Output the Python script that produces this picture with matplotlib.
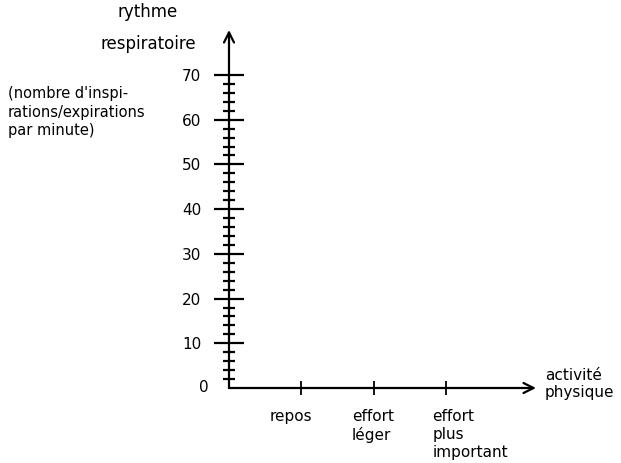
import matplotlib
matplotlib.use("Agg")
import matplotlib.pyplot as plt
import numpy as np

# Data / labels
categories = ["repos", "effort\nléger", "effort\nplus\nimportant"]
cat_positions = [1, 2, 3]
y_major = [10, 20, 30, 40, 50, 60, 70]
y_minor = [v for v in range(2, 70, 2) if v % 10 != 0]
y_title = "rythme\nrespiratoire"
y_unit = "(nombre d'inspi-\nrations/expirations\npar minute)"
x_title = "activité\nphysique"

plt.rcParams['font.family'] = ['DejaVu Sans']
W, H = 621, 463
fig = plt.figure(figsize=(W / 100, H / 100), dpi=100)

# axis area in pixels
x0, x1 = 229, 536
yb, yt = 388, 30
ax = fig.add_axes([x0 / W, (H - yb) / H, (x1 - x0) / W, (yb - yt) / H])
ymax = 70 + (75 - yt) / 44.7 * 10
xmax = (x1 - x0) / 72.3
ax.set_xlim(0, xmax)
ax.set_ylim(0, ymax)

for s in ax.spines.values():
    s.set_visible(False)

# axes with arrows
ax.annotate("", xy=(xmax, 0), xytext=(0, 0),
            arrowprops=dict(arrowstyle="->", lw=1.6, color="black",
                            mutation_scale=18, shrinkA=0, shrinkB=0),
            annotation_clip=False)
ax.annotate("", xy=(0, ymax), xytext=(0, 0),
            arrowprops=dict(arrowstyle="->", lw=1.6, color="black",
                            mutation_scale=18, shrinkA=0, shrinkB=0),
            annotation_clip=False)

ax.set_yticks(y_major)
ax.set_yticks(y_minor, minor=True)
ax.set_yticklabels([str(v) for v in y_major], fontsize=11)
ax.tick_params(axis='y', which='major', direction='inout', length=22,
               width=1.6, pad=9)
ax.tick_params(axis='y', which='minor', direction='inout', length=8,
               width=1.6)

ax.set_xticks(cat_positions)
ax.set_xticklabels([])
ax.tick_params(axis='x', which='major', direction='inout', length=10,
               width=1.3)

# zero label
ax.text(-25 / 72.3, 0, "0", fontsize=11, ha='center', va='center')

# category labels
offsets = [-0.44, -0.30, -0.19]
for p, lab, off in zip(cat_positions, categories, offsets):
    ax.text(p + off, -4.6, lab, fontsize=11, ha='left', va='top',
            linespacing=1.25)

# titles
fig.text(148 / W, 1 - 3 / H, y_title, fontsize=12, ha='center', va='top',
         linespacing=2.0)
fig.text(8 / W, 1 - 86 / H, y_unit, fontsize=10.5, ha='left', va='top',
         linespacing=1.3)
fig.text(545 / W, 1 - 368 / H, x_title, fontsize=11, ha='left', va='top',
         linespacing=1.2)

fig.savefig("out.png", dpi=100)
